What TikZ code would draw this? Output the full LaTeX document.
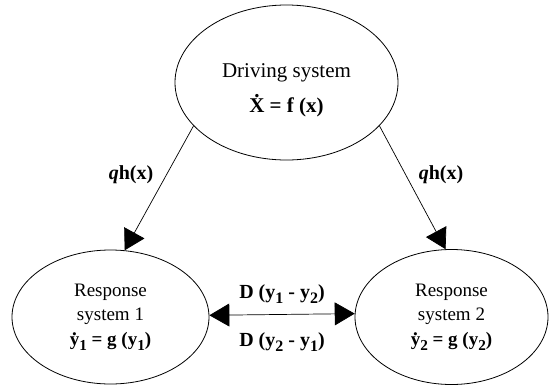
\documentclass[tikz,border=0pt]{standalone}
\usepackage{fontspec}
\setmainfont{Liberation Serif}
\usepackage{graphicx}
\usetikzlibrary{shapes.geometric,arrows.meta}
\newcommand\dotover[1]{\setbox0\hbox{#1}\hbox{\rlap{\hbox to\wd0{\hss\raisebox{\dimexpr\ht0+0.06em\relax}{.}\hss}}\box0}}
\newcommand\sbs[1]{\raisebox{-0.25em}{\scalebox{0.8}{#1}}}
\begin{document}
\begin{tikzpicture}[x=1pt,y=-1pt,
  sysbox/.style={draw, ellipse, line width=0.8pt, inner sep=0pt, align=center},
  flow/.style={line width=0.7pt, -{Triangle[length=20pt,width=23pt]}},
  both/.style={line width=0.7pt, {Triangle[length=20pt,width=23pt]}-{Triangle[length=20pt,width=23pt]}},
  lbl/.style={font=\fontsize{20}{22}\selectfont\bfseries, inner sep=0pt}]
\useasboundingbox (0,0) rectangle (549,386);
\node[sysbox, minimum width=223pt, minimum height=155pt, font=\fontsize{21}{35}\selectfont] (drive) at (286.5,82.5) {\rule{0pt}{6pt}\\[-11pt]Driving system\\ \textbf{\dotover{X} = f (x)}};
\node[sysbox, minimum width=197pt, minimum height=134pt, font=\fontsize{19}{24.5}\selectfont] (resp1) at (110.5,317) {Response\\ system 1\\ \textbf{\dotover{y}\sbs{1} = g (y\sbs{1})}};
\node[sysbox, minimum width=193pt, minimum height=135pt, font=\fontsize{19}{24.5}\selectfont] (resp2) at (451.5,317) {Response\\ system 2\\ \textbf{\dotover{y}\sbs{2} = g (y\sbs{2})}};
\draw[flow] (drive.205.5) -- (resp1.78);
\draw[flow] (drive.335.5) -- (resp2.95.4);
\draw[both] (resp1.1.5) -- (resp2.178.5);
\node[lbl] (q1) at (131,175) {\textit{q}h(x)};
\node[lbl] (q2) at (441,175) {\textit{q}h(x)};
\node[lbl] (d12) at (282,294) {D (y\sbs{1} - y\sbs{2})};
\node[lbl] (d21) at (282,342) {D (y\sbs{2} - y\sbs{1})};
\end{tikzpicture}
\end{document}
